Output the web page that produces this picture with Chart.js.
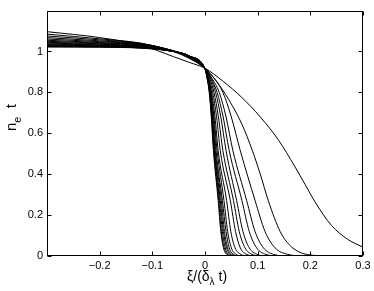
<!DOCTYPE html>
<html>
<head>
<meta charset="utf-8">
<script src="https://cdn.jsdelivr.net/npm/chart.js@4"></script>
<style>
  body { margin: 0; background: #fff; }
</style>
</head>
<body>
<canvas id="profiles" width="374" height="291"></canvas>
<script>
// density profiles n_e t against xi/(delta_lambda t), widest first
const curve01 = [[-0.3,1.097],[-0.2,1.068],[-0.12,1.03],[-0.06,0.975],[-0.03,0.947],[0,0.918],[0.035,0.853],[0.07,0.775],[0.105,0.68],[0.14,0.565],[0.17,0.44],[0.19,0.35],[0.21,0.26],[0.24,0.15],[0.27,0.083],[0.3,0.043]];
const curve02 = [[-0.3,1.085],[-0.2,1.062],[-0.12,1.04],[-0.06,1.0],[-0.03,0.966],[0,0.918],[0.022,0.854],[0.045,0.765],[0.07,0.645],[0.09,0.515],[0.105,0.4],[0.12,0.272],[0.143,0.118],[0.16,0.055],[0.18,0.018],[0.2,0.005],[0.23,0],[0.3,0]];
const curve03 = [[-0.3,1.076],[-0.2,1.057],[-0.12,1.039],[-0.06,1.002],[-0.03,0.97],[0,0.917],[0.017,0.87],[0.034,0.80],[0.05,0.68],[0.067,0.515],[0.095,0.272],[0.114,0.12],[0.133,0.04],[0.157,0.008],[0.19,0],[0.3,0]];
const curve04 = [[-0.3,1.068],[-0.2,1.052],[-0.12,1.037],[-0.06,1.003],[-0.03,0.972],[0,0.917],[0.013,0.87],[0.027,0.80],[0.04,0.68],[0.053,0.515],[0.079,0.272],[0.095,0.12],[0.111,0.04],[0.13,0.008],[0.158,0],[0.3,0]];
const curve05 = [[-0.3,1.061],[-0.2,1.048],[-0.12,1.035],[-0.06,1.003],[-0.03,0.974],[0,0.916],[0.0115,0.87],[0.023,0.80],[0.0345,0.68],[0.046,0.515],[0.07,0.272],[0.084,0.12],[0.098,0.04],[0.1155,0.008],[0.14,0],[0.3,0]];
const curve06 = [[-0.3,1.055],[-0.2,1.044],[-0.12,1.033],[-0.06,1.003],[-0.03,0.975],[0,0.916],[0.01,0.87],[0.02,0.80],[0.03,0.68],[0.04,0.515],[0.06,0.272],[0.072,0.12],[0.084,0.04],[0.099,0.008],[0.12,0],[0.3,0]];
const curve07 = [[-0.3,1.05],[-0.2,1.041],[-0.12,1.031],[-0.06,1.003],[-0.03,0.976],[0,0.916],[0.0085,0.87],[0.017,0.80],[0.0255,0.68],[0.034,0.515],[0.054,0.272],[0.065,0.12],[0.076,0.04],[0.089,0.008],[0.108,0],[0.3,0]];
const curve08 = [[-0.3,1.045],[-0.2,1.038],[-0.12,1.029],[-0.06,1.002],[-0.03,0.977],[0,0.915],[0.007,0.87],[0.0145,0.80],[0.022,0.68],[0.029,0.515],[0.048,0.272],[0.058,0.12],[0.067,0.04],[0.079,0.008],[0.096,0],[0.3,0]];
const curve09 = [[-0.3,1.041],[-0.2,1.035],[-0.12,1.027],[-0.06,1.002],[-0.03,0.977],[0,0.915],[0.006,0.87],[0.0125,0.80],[0.019,0.68],[0.025,0.515],[0.041,0.272],[0.049,0.12],[0.057,0.04],[0.068,0.008],[0.082,0],[0.3,0]];
const curve10 = [[-0.3,1.037],[-0.2,1.032],[-0.12,1.025],[-0.06,1.001],[-0.03,0.978],[0,0.915],[0.006,0.87],[0.0115,0.80],[0.017,0.68],[0.023,0.515],[0.036,0.272],[0.043,0.12],[0.05,0.04],[0.059,0.008],[0.072,0],[0.3,0]];
const curve11 = [[-0.3,1.034],[-0.2,1.03],[-0.12,1.023],[-0.06,1.001],[-0.03,0.978],[0,0.915],[0.005,0.87],[0.0105,0.80],[0.016,0.68],[0.021,0.515],[0.033,0.272],[0.04,0.12],[0.046,0.04],[0.054,0.008],[0.066,0],[0.3,0]];
const curve12 = [[-0.3,1.031],[-0.2,1.028],[-0.12,1.021],[-0.06,1.0],[-0.03,0.978],[0,0.915],[0.005,0.87],[0.01,0.80],[0.0145,0.68],[0.0195,0.515],[0.031,0.272],[0.037,0.12],[0.043,0.04],[0.051,0.008],[0.062,0],[0.3,0]];
const curve13 = [[-0.3,1.028],[-0.2,1.026],[-0.12,1.019],[-0.06,1.0],[-0.03,0.978],[0,0.915],[0.0045,0.87],[0.009,0.80],[0.014,0.68],[0.0185,0.515],[0.029,0.272],[0.035,0.12],[0.041,0.04],[0.048,0.008],[0.058,0],[0.3,0]];
const curve14 = [[-0.3,1.026],[-0.2,1.024],[-0.12,1.018],[-0.06,1.0],[-0.03,0.978],[0,0.915],[0.0045,0.87],[0.009,0.80],[0.013,0.68],[0.0175,0.515],[0.0275,0.272],[0.033,0.12],[0.0385,0.04],[0.045,0.008],[0.055,0],[0.3,0]];
const curve15 = [[-0.3,1.024],[-0.2,1.022],[-0.12,1.017],[-0.06,1.0],[-0.03,0.978],[0,0.915],[0.004,0.87],[0.0085,0.80],[0.0125,0.68],[0.0167,0.515],[0.026,0.272],[0.031,0.12],[0.0365,0.04],[0.043,0.008],[0.052,0],[0.3,0]];
const curve16 = [[-0.3,1.022],[-0.2,1.021],[-0.12,1.016],[-0.06,1.0],[-0.03,0.978],[0,0.915],[0.004,0.87],[0.008,0.80],[0.012,0.68],[0.016,0.515],[0.025,0.272],[0.03,0.12],[0.035,0.04],[0.041,0.008],[0.05,0],[0.3,0]];

const curves = [curve01, curve02, curve03, curve04, curve05, curve06, curve07, curve08,
  curve09, curve10, curve11, curve12, curve13, curve14, curve15, curve16];

const xTickValues = [-0.3, -0.2, -0.1, 0, 0.1, 0.2, 0.3];
const xTickLabels = ['', '\u22120.2', '\u22120.1', '0', '0.1', '0.2', '0.3'];
const yTickValues = [0, 0.2, 0.4, 0.6, 0.8, 1, 1.2];
const yTickLabels = ['0', '0.2', '0.4', '0.6', '0.8', '1', ''];

const FONT = '"Liberation Sans", Arial, sans-serif';
Chart.defaults.font.family = FONT;
Chart.defaults.font.size = 11;
Chart.defaults.color = '#000';

// draw text with subscript pieces
function drawRich(ctx, parts, x, y, size) {
  let cx = x;
  parts.forEach(p => {
    const s = p.sub ? size * 0.72 : size;
    ctx.font = s + 'px ' + FONT;
    ctx.fillText(p.t, cx, p.sub ? y + size * 0.32 : y);
    cx += ctx.measureText(p.t).width;
  });
}

const frame = {
  id: 'frame',
  afterDraw(chart) {
    const { ctx, chartArea: a, scales } = chart;
    const L = Math.round(a.left) + 0.5, R = Math.round(a.right) - 0.5;
    const T = Math.round(a.top) + 0.5, B = Math.round(a.bottom) - 0.5;
    ctx.save();
    ctx.strokeStyle = '#000';
    ctx.lineWidth = 1;
    ctx.strokeRect(L, T, R - L, B - T);
    ctx.beginPath();
    xTickValues.forEach(v => {
      const px = Math.round(scales.x.getPixelForValue(v)) + 0.5;
      ctx.moveTo(px, B); ctx.lineTo(px, B - 4);
      ctx.moveTo(px, T); ctx.lineTo(px, T + 4);
    });
    yTickValues.forEach(v => {
      const py = Math.round(scales.y.getPixelForValue(v)) + 0.5;
      ctx.moveTo(L, py); ctx.lineTo(L + 4, py);
      ctx.moveTo(R, py); ctx.lineTo(R - 4, py);
    });
    ctx.stroke();

    ctx.fillStyle = '#000';
    ctx.textBaseline = 'alphabetic';
    ctx.textAlign = 'left';
    drawRich(ctx, [{ t: '\u03be/(\u03b4' }, { t: '\u03bb', sub: true }, { t: ' t)' }], 187, 281, 14);

    ctx.translate(16, 131);
    ctx.rotate(-Math.PI / 2);
    drawRich(ctx, [{ t: 'n' }, { t: 'e', sub: true }, { t: '  t' }], 0, 0, 15);
    ctx.restore();
  }
};

new Chart(document.getElementById('profiles'), {
  type: 'line',
  data: {
    datasets: curves.map(c => ({
      data: c.map(p => ({ x: p[0], y: p[1] })),
      borderColor: '#000',
      borderWidth: 1,
      pointRadius: 0,
      fill: false,
      cubicInterpolationMode: 'monotone'
    }))
  },
  options: {
    responsive: false,
    animation: false,
    layout: { padding: { left: 0, top: 9, right: 11, bottom: 0 } },
    plugins: { legend: { display: false }, tooltip: { enabled: false } },
    scales: {
      x: {
        type: 'linear',
        min: -0.3,
        max: 0.3,
        grid: { display: false, drawTicks: false },
        border: { display: false },
        afterBuildTicks: s => { s.ticks = xTickValues.map(v => ({ value: v })); },
        afterFit: s => { s.height = 35; },
        ticks: { maxRotation: 0, autoSkip: false, padding: 3, callback: (v, i) => xTickLabels[i] }
      },
      y: {
        min: 0,
        max: 1.2,
        grid: { display: false, drawTicks: false },
        border: { display: false },
        afterBuildTicks: s => { s.ticks = yTickValues.map(v => ({ value: v })); },
        afterFit: s => { s.width = 47; },
        ticks: { autoSkip: false, padding: 4, callback: (v, i) => yTickLabels[i] }
      }
    }
  },
  plugins: [frame]
});
</script>
</body>
</html>
